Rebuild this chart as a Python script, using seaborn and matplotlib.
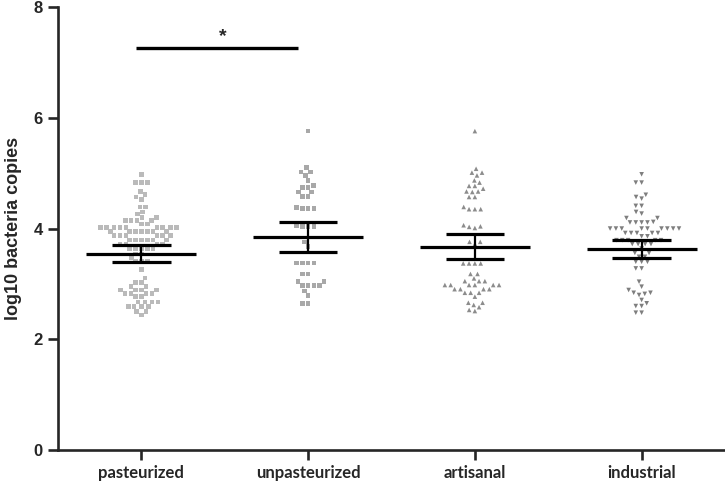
# scatter of log10 bacteria copies per milk group, mean with error bars

import matplotlib
matplotlib.use('Agg')
import matplotlib.pyplot as plt
import pandas as pd
import seaborn as sns

# values
groups = ['pasteurized', 'unpasteurized', 'artisanal', 'industrial']

pasteurized = [4.98, 4.83, 4.83, 4.83, 4.67, 4.61, 4.57, 4.53, 4.39, 4.39,
               4.30, 4.26, 4.20, 4.20, 4.15, 4.15, 4.15, 4.15, 4.085, 4.085,
               4.02, 4.02, 4.02, 4.02, 4.02, 4.02, 4.02, 4.02, 4.02,
               3.945, 3.945, 3.945, 3.945, 3.945, 3.945, 3.945,
               3.87, 3.87, 3.87, 3.87, 3.87, 3.87,
               3.795, 3.795, 3.795, 3.795, 3.795, 3.795,
               3.72, 3.72, 3.72, 3.72, 3.645, 3.645, 3.645, 3.645, 3.645,
               3.54, 3.54, 3.47, 3.40, 3.40, 3.40, 3.26, 3.11, 3.03, 3.03,
               2.95, 2.95, 2.89, 2.89, 2.89, 2.89, 2.83, 2.83, 2.83, 2.83,
               2.77, 2.77, 2.67, 2.67, 2.67, 2.67, 2.59, 2.59, 2.59, 2.59,
               2.50, 2.50, 2.44]

unpasteurized = [5.76, 5.10, 5.02, 5.02, 4.96, 4.87, 4.78, 4.74, 4.74,
                 4.66, 4.66, 4.58, 4.58, 4.38, 4.36, 4.36, 4.36,
                 4.05, 4.04, 4.04, 4.04, 3.76, 3.68,
                 3.38, 3.38, 3.38, 3.38, 3.18, 3.18, 3.04, 3.04,
                 2.97, 2.97, 2.97, 2.97, 2.87, 2.79, 2.65, 2.65]

artisanal = [5.76, 5.08, 5.01, 5.01, 4.96, 4.87, 4.83, 4.77, 4.77, 4.72,
             4.67, 4.67, 4.66, 4.57, 4.57, 4.39, 4.35, 4.35, 4.35,
             4.06, 4.04, 4.03, 4.01, 3.76, 3.76, 3.72,
             3.37, 3.37, 3.37, 3.37, 3.18, 3.18, 3.10, 3.05, 3.05, 3.05,
             2.98, 2.98, 2.98, 2.98, 2.98, 2.98, 2.905, 2.905, 2.905, 2.905,
             2.84, 2.84, 2.84, 2.77, 2.66, 2.66, 2.62, 2.58, 2.53, 2.51]

industrial = [4.98, 4.83, 4.83, 4.61, 4.57, 4.54, 4.41, 4.41, 4.30, 4.27,
              4.19, 4.19, 4.12, 4.11, 4.11, 4.11, 4.11,
              4.00, 4.00, 4.00, 4.00, 4.00, 4.00, 4.00, 4.00, 4.00,
              3.92, 3.92, 3.92, 3.92, 3.92, 3.86, 3.86,
              3.79, 3.79, 3.79, 3.79, 3.79, 3.72, 3.72, 3.72, 3.72,
              3.64, 3.56, 3.56, 3.49, 3.49, 3.40, 3.40, 3.40, 3.28, 3.28,
              3.04, 2.95, 2.89, 2.84, 2.84, 2.82, 2.80, 2.71, 2.65,
              2.60, 2.60, 2.48, 2.48]

means = [3.54, 3.84, 3.67, 3.63]
err_low = [3.40, 3.57, 3.45, 3.47]
err_high = [3.70, 4.11, 3.90, 3.80]

markers = ['s', 's', '^', 'v']
colors = ['#bababa', '#a8a8a8', '#8c8c8c', '#7e7e7e']

sns.set_style('ticks')
plt.rcParams['font.family'] = ['Liberation Sans', 'DejaVu Sans']

fig = plt.figure(figsize=(7.25, 4.83), dpi=100)
ax = fig.add_axes([0.08, 0.0683, 0.92, 0.917])

values = [pasteurized, unpasteurized, artisanal, industrial]
for g, v, m, c in zip(groups, values, markers, colors):
    df = pd.DataFrame({'group': g, 'log10': v})
    sns.swarmplot(data=df, x='group', y='log10', order=groups, ax=ax,
                  marker=m, color=c, size=3.3, linewidth=0.7,
                  edgecolor='none', zorder=2)

pos = range(len(groups))
ax.hlines(means, [p - 0.33 for p in pos], [p + 0.33 for p in pos],
          color='black', lw=2.3, zorder=4)
ax.hlines(err_low, [p - 0.175 for p in pos], [p + 0.175 for p in pos],
          color='black', lw=2.3, zorder=4)
ax.hlines(err_high, [p - 0.175 for p in pos], [p + 0.175 for p in pos],
          color='black', lw=2.3, zorder=4)
ax.vlines(list(pos), err_low, err_high, color='black', lw=1.6, zorder=4)

# significance bar
ax.plot([-0.03, 0.94], [7.27, 7.27], color='black', lw=2.4, solid_capstyle='butt')
ax.text(0.49, 7.32, '*', ha='center', va='bottom', fontsize=14, fontweight='bold')

ax.set_xlim(-0.5, 3.5)
ax.set_ylim(0, 8)
ax.set_yticks([0, 2, 4, 6, 8])
ax.set_xlabel('')
ax.set_ylabel('log10 bacteria copies', fontsize=13, fontweight='bold', labelpad=8)

sns.despine(ax=ax)
for s in ['left', 'bottom']:
    ax.spines[s].set_linewidth(1.9)
ax.tick_params(axis='both', width=1.9, length=7.5, direction='out')
plt.setp(ax.get_yticklabels(), fontsize=12, fontweight='bold')
plt.setp(ax.get_xticklabels(), fontsize=12, fontweight='bold', family=['Lato', 'DejaVu Sans'])

fig.savefig('out.png', dpi=100)
